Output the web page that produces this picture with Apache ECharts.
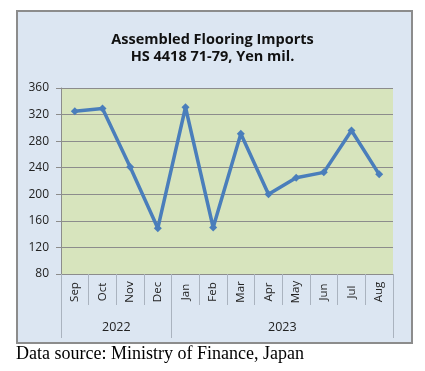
<!DOCTYPE html>
<html><head><meta charset="utf-8">
<script src="https://cdn.jsdelivr.net/npm/echarts@6/dist/echarts.min.js"></script>
<style>html,body{margin:0;padding:0;background:#fff;}#c{width:425px;height:371px;}</style>
</head><body><div id="c"></div>
<script>
const months = ['Sep','Oct','Nov','Dec','Jan','Feb','Mar','Apr','May','Jun','Jul','Aug'];
const values = [325, 329, 241, 149, 331, 150, 291, 200, 225, 233, 296, 230];
const years = ['2022', '2023'];
const yearStarts = [0, 4, 12];   // category boundaries of the year groups
const yearCenters = [2, 8];
const yTicks = [80, 120, 160, 200, 240, 280, 320, 360];

const chart = echarts.init(document.getElementById('c'), null, {renderer: 'canvas'});
chart.setOption({
  animation: false,
  backgroundColor: '#fff',
  graphic: [
    {type: 'rect', shape: {x: 17, y: 11, width: 395, height: 332}, style: {fill: '#dce6f2', stroke: '#8c8c8c', lineWidth: 2}, z: -10},
    {type: 'text', left: 'center', top: 32, style: {text: 'Assembled Flooring Imports', font: 'bold 14.5px "Open Sans"', fill: '#111'}},
    {type: 'text', left: 'center', top: 49, style: {text: 'HS 4418 71-79, Yen mil.', font: 'bold 14.5px "Open Sans"', fill: '#111'}},
    {type: 'text', left: 16, top: 345, style: {text: 'Data source: Ministry of Finance, Japan', font: '18px "Liberation Serif"', fill: '#000'}}
  ],
  grid: {left: 61, right: 32, top: 88, bottom: 97, show: true, backgroundColor: '#d7e4bd', borderWidth: 0},
  xAxis: [
    {type: 'category', data: months, boundaryGap: true, position: 'bottom',
     axisLine: {show: true, lineStyle: {color: '#8c8c8c', width: 1}},
     axisTick: {show: true, interval: 0, length: 31, lineStyle: {color: '#aab3bf'}},
     axisLabel: {interval: 0, rotate: 90, align: 'center', margin: 18, fontFamily: '"Open Sans"', fontSize: 11.5, color: '#222'}},
    {type: 'value', min: 0, max: 12, position: 'bottom', offset: 64,
     axisLine: {show: false},
     splitLine: {show: false},
     axisTick: {show: true, inside: true, length: 64, customValues: yearStarts, lineStyle: {color: '#aab3bf'}},
     axisLabel: {inside: true, margin: 4, customValues: yearCenters, fontFamily: '"Open Sans"', fontSize: 12.5, color: '#222',
       formatter: v => years[yearCenters.indexOf(v)]}}
  ],
  yAxis: {type: 'value', min: yTicks[0], max: yTicks[yTicks.length - 1], interval: 40,
    axisLine: {show: true, lineStyle: {color: '#8c8c8c'}},
    axisTick: {show: true, length: 5, lineStyle: {color: '#8c8c8c'}},
    axisLabel: {margin: 12, fontFamily: '"Open Sans"', fontSize: 12, color: '#222'},
    splitLine: {show: true, lineStyle: {color: '#8c8c8c', width: 1}}},
  series: [{type: 'line', data: values, xAxisIndex: 0, symbol: 'diamond', symbolSize: 8,
    lineStyle: {color: '#4a7ebb', width: 3.5}, itemStyle: {color: '#4a7ebb'}}]
});
</script></body></html>
